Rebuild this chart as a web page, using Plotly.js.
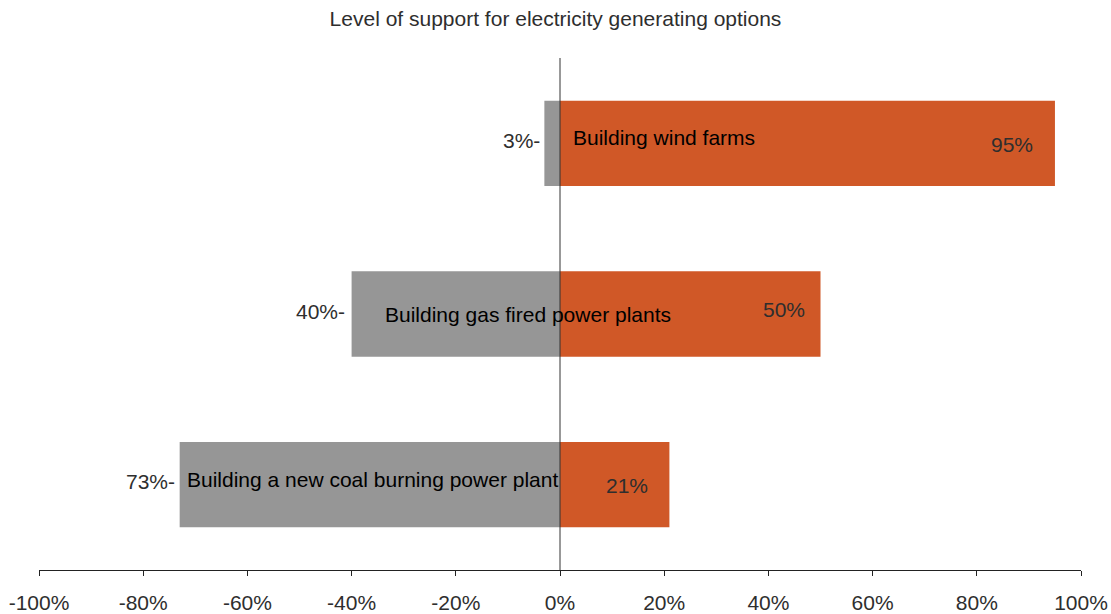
<!DOCTYPE html>
<html>
<head>
<meta charset="utf-8">
<script src="https://cdn.plot.ly/plotly-3.0.1.min.js"></script>
<style>
  html, body { margin: 0; padding: 0; background: #fff; }
  #chart { width: 1111px; height: 614px; }
</style>
</head>
<body>
<div id="chart"></div>
<script>
// Survey results: share opposing (left, grey) and supporting (right, orange)
const options = [
  'Building a new coal burning power plant',
  'Building gas fired power plants',
  'Building wind farms'
];
const oppose = [73, 40, 3];
const support = [21, 50, 95];
const tickValues = [-100, -80, -60, -40, -20, 0, 20, 40, 60, 80, 100];
const tickLabels = ['-100%', '-80%', '-60%', '-40%', '-20%', '0%', '20%', '40%', '60%', '80%', '100%'];

// Label placement tweaks (pixels / axis units), one per option
const nameAnchor = [
  { x: -73, xanchor: 'left', xshift: 5, yshift: 5 },
  { x: -6, xanchor: 'center', xshift: -1, yshift: 0 },
  { x: 0, xanchor: 'left', xshift: 11, yshift: 6 }
];
const supportShift = [{ x: -19, y: -1 }, { x: -14, y: 5 }, { x: -20, y: -1 }];
const opposeShift = [-3, -5, -2];

const textFont = { family: 'Liberation Sans, Arial, sans-serif', size: 21, color: '#2e2e2e' };
const nameFont = { family: 'Liberation Sans, Arial, sans-serif', size: 21, color: '#000' };

const traces = [
  {
    type: 'bar', orientation: 'h',
    y: options, x: oppose.map(v => -v),
    base: 0, width: 0.5,
    marker: { color: '#969696', line: { width: 0 } },
    hoverinfo: 'skip', showlegend: false
  },
  {
    type: 'bar', orientation: 'h',
    y: options, x: support,
    width: 0.5,
    marker: { color: '#d05827', line: { width: 0 } },
    hoverinfo: 'skip', showlegend: false
  }
];

const annotations = [];
options.forEach((name, i) => {
  annotations.push({
    x: nameAnchor[i].x, y: name, xref: 'x', yref: 'y',
    text: name, showarrow: false,
    xanchor: nameAnchor[i].xanchor, yanchor: 'middle',
    xshift: nameAnchor[i].xshift, yshift: nameAnchor[i].yshift,
    font: nameFont
  });
  annotations.push({
    x: support[i], y: name, xref: 'x', yref: 'y',
    text: support[i] + '%', showarrow: false,
    xanchor: 'right', yanchor: 'middle',
    xshift: supportShift[i].x, yshift: supportShift[i].y,
    font: textFont
  });
  annotations.push({
    x: -oppose[i], y: name, xref: 'x', yref: 'y',
    text: oppose[i] + '%-', showarrow: false,
    xanchor: 'right', yanchor: 'middle',
    xshift: opposeShift[i], yshift: 3,
    font: textFont
  });
});

const layout = {
  width: 1111, height: 614,
  paper_bgcolor: '#fff', plot_bgcolor: '#fff',
  margin: { l: 39, r: 30, t: 58, b: 44 },
  barmode: 'overlay',
  title: {
    text: 'Level of support for electricity generating options',
    x: 0.5, xref: 'container', xanchor: 'center',
    y: 0.969, yref: 'container', yanchor: 'middle',
    font: { family: 'Liberation Sans, Arial, sans-serif', size: 21, color: '#2e2e2e' }
  },
  xaxis: {
    range: [-100, 100], fixedrange: true,
    tickmode: 'array', tickvals: tickValues, ticktext: tickLabels,
    showgrid: false, zeroline: false,
    showline: true, linecolor: '#222', linewidth: 1,
    ticks: 'outside', ticklen: 5, tickcolor: '#222', tickwidth: 1,
    ticklabelstandoff: 9,
    tickfont: textFont
  },
  yaxis: {
    categoryorder: 'array', categoryarray: options,
    range: [-0.5, 2.5], fixedrange: true,
    showticklabels: false, showgrid: false, zeroline: false, showline: false, ticks: ''
  },
  shapes: [{
    type: 'line', layer: 'above',
    xref: 'x', yref: 'paper', x0: 0, x1: 0, y0: 0, y1: 1,
    line: { color: '#333', width: 1 }
  }],
  annotations: annotations
};

Plotly.newPlot('chart', traces, layout, { displayModeBar: false, staticPlot: true });
</script>
</body>
</html>
